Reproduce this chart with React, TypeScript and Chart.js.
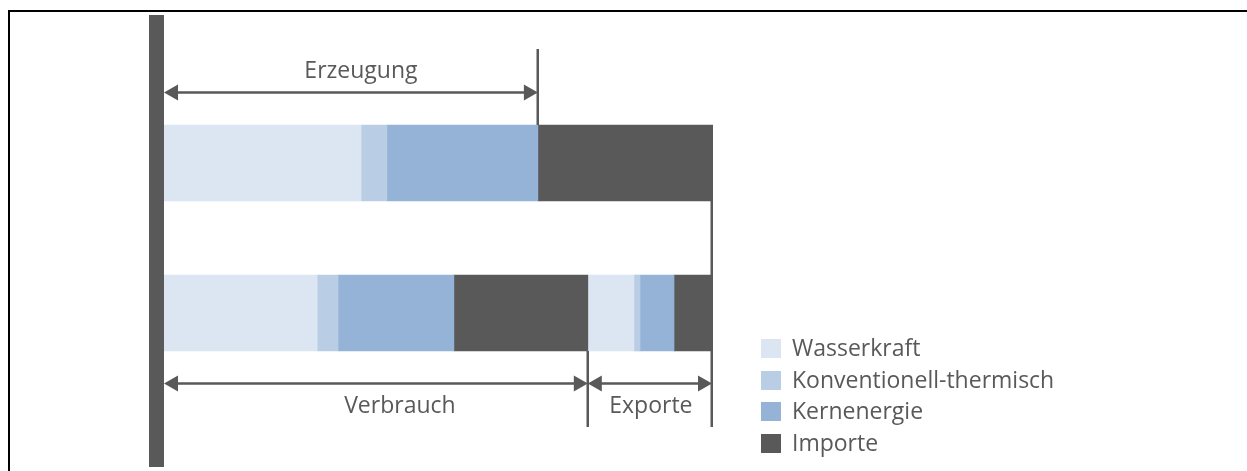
import React, { useEffect, useRef } from "react";
import { Chart, registerables } from "chart.js";

Chart.register(...registerables);

// Energy sources, in stacking order
const sources = ["Wasserkraft", "Konventionell-thermisch", "Kernenergie", "Importe"];
const sourceColors = ["#dce6f2", "#b9cde5", "#95b3d7", "#595959"];

// Upper bar: supply (domestic generation + imports), share of total in %
const supplyValues = [35.9, 4.7, 27.5, 31.9];
// Lower bar: use, split into domestic consumption and exports, in %
const consumptionValues = [27.9, 3.8, 21.1, 24.4];
const exportValues = [8.4, 1.1, 6.2, 7.1];

const rowLabels = ["Aufkommen", "Verwendung"];
const spanLabels = ["Erzeugung", "Verbrauch", "Exporte"];

const INK = "#595959";
const FONT = "500 23px 'Open Sans', 'Noto Sans', sans-serif";

const sum = (a: number[]) => a.reduce((s, v) => s + v, 0);

function arrow(ctx: CanvasRenderingContext2D, x1: number, x2: number, y: number) {
  const headLen = 14;
  const headHalf = 8;
  ctx.strokeStyle = INK;
  ctx.fillStyle = INK;
  ctx.lineWidth = 2.5;
  ctx.beginPath();
  ctx.moveTo(x1 + headLen - 1, y);
  ctx.lineTo(x2 - headLen + 1, y);
  ctx.stroke();
  ctx.beginPath();
  ctx.moveTo(x1, y);
  ctx.lineTo(x1 + headLen, y - headHalf);
  ctx.lineTo(x1 + headLen, y + headHalf);
  ctx.closePath();
  ctx.fill();
  ctx.beginPath();
  ctx.moveTo(x2, y);
  ctx.lineTo(x2 - headLen, y - headHalf);
  ctx.lineTo(x2 - headLen, y + headHalf);
  ctx.closePath();
  ctx.fill();
}

function vline(ctx: CanvasRenderingContext2D, x: number, y1: number, y2: number) {
  ctx.fillStyle = INK;
  ctx.fillRect(Math.round(x) - 1.5, y1, 2.5, y2 - y1);
}

const framePlugin = {
  id: "frame",
  beforeDraw(chart: any) {
    const ctx = chart.ctx as CanvasRenderingContext2D;
    const x0 = chart.scales.x.getPixelForValue(0);
    ctx.save();
    ctx.fillStyle = "#ffffff";
    ctx.fillRect(0, 0, chart.width, chart.height);
    // outer frame
    ctx.fillStyle = "#000000";
    ctx.fillRect(8, 10, 2, chart.height - 10);
    ctx.fillRect(8, 10, chart.width - 8, 2);
    // heavy baseline at zero
    ctx.fillStyle = INK;
    ctx.fillRect(x0 - 15, 15, 15, chart.height - 19);
    ctx.restore();
  },
};

const spansPlugin = {
  id: "spans",
  afterDatasetsDraw(chart: any) {
    const ctx = chart.ctx as CanvasRenderingContext2D;
    const xs = chart.scales.x;
    const meta0 = chart.getDatasetMeta(0);
    const top = meta0.data[0];
    const bottom = meta0.data[1];
    const topBarTop = top.y - top.height / 2;
    const topBarBottom = top.y + top.height / 2;
    const botBarBottom = bottom.y + bottom.height / 2;

    const x0 = xs.getPixelForValue(0);
    const xGen = xs.getPixelForValue(sum(supplyValues.slice(0, 3)));
    const xUse = xs.getPixelForValue(sum(consumptionValues));
    const xEnd = xs.getPixelForValue(sum(consumptionValues) + sum(exportValues)) - 1;

    ctx.save();
    // guide lines
    vline(ctx, xGen, 49, topBarTop);
    vline(ctx, xUse, botBarBottom, 427);
    vline(ctx, xEnd, topBarBottom, 427);

    // dimension arrows
    const yGen = 92.5;
    const yUse = 383.5;
    arrow(ctx, x0, xGen, yGen);
    arrow(ctx, x0, xUse, yUse);
    arrow(ctx, xUse, xEnd, yUse);

    // span captions
    ctx.font = FONT;
    ctx.fillStyle = INK;
    ctx.textAlign = "center";
    ctx.textBaseline = "alphabetic";
    ctx.fillText(spanLabels[0], (x0 + xGen) / 2 + 10, 78);
    ctx.fillText(spanLabels[1], (x0 + xUse) / 2 + 24, 413);
    ctx.fillText(spanLabels[2], (xUse + xEnd) / 2 + 1, 413);

    // legend
    ctx.textAlign = "left";
    sources.forEach((name, i) => {
      const y = 339 + i * 31.6;
      ctx.fillStyle = sourceColors[i];
      ctx.fillRect(761, Math.round(y), 20, 19);
      ctx.fillStyle = INK;
      ctx.fillText(name, 792, Math.round(y) + 17);
    });
    ctx.restore();
  },
};

export default function App() {
  const canvasRef = useRef<HTMLCanvasElement | null>(null);

  useEffect(() => {
    const canvas = canvasRef.current;
    if (!canvas) return;

    const datasets = [
      ...sources.map((name, i) => ({
        label: name,
        data: [supplyValues[i], consumptionValues[i]],
        backgroundColor: sourceColors[i],
        borderWidth: 0,
        stack: "total",
      })),
      ...sources.map((name, i) => ({
        label: name + " (Export)",
        data: [null, exportValues[i]],
        backgroundColor: sourceColors[i],
        borderWidth: 0,
        stack: "total",
      })),
    ];

    const chart = new Chart(canvas, {
      type: "bar",
      data: { labels: rowLabels, datasets: datasets as any },
      options: {
        indexAxis: "y",
        responsive: false,
        animation: false,
        devicePixelRatio: 1,
        layout: { padding: { left: 164, right: 534, top: 88, bottom: 83 } },
        datasets: { bar: { barThickness: 76 } },
        scales: {
          x: { stacked: true, min: 0, max: 100, display: false },
          y: { stacked: true, display: false },
        },
        plugins: {
          legend: { display: false },
          tooltip: { enabled: false },
        },
      },
      plugins: [framePlugin, spansPlugin],
    });

    return () => chart.destroy();
  }, []);

  return (
    <div style={{ position: "fixed", left: 0, top: 0, width: 1247, height: 471, background: "#fff" }}>
      <canvas ref={canvasRef} width={1247} height={471} style={{ display: "block" }} />
    </div>
  );
}
